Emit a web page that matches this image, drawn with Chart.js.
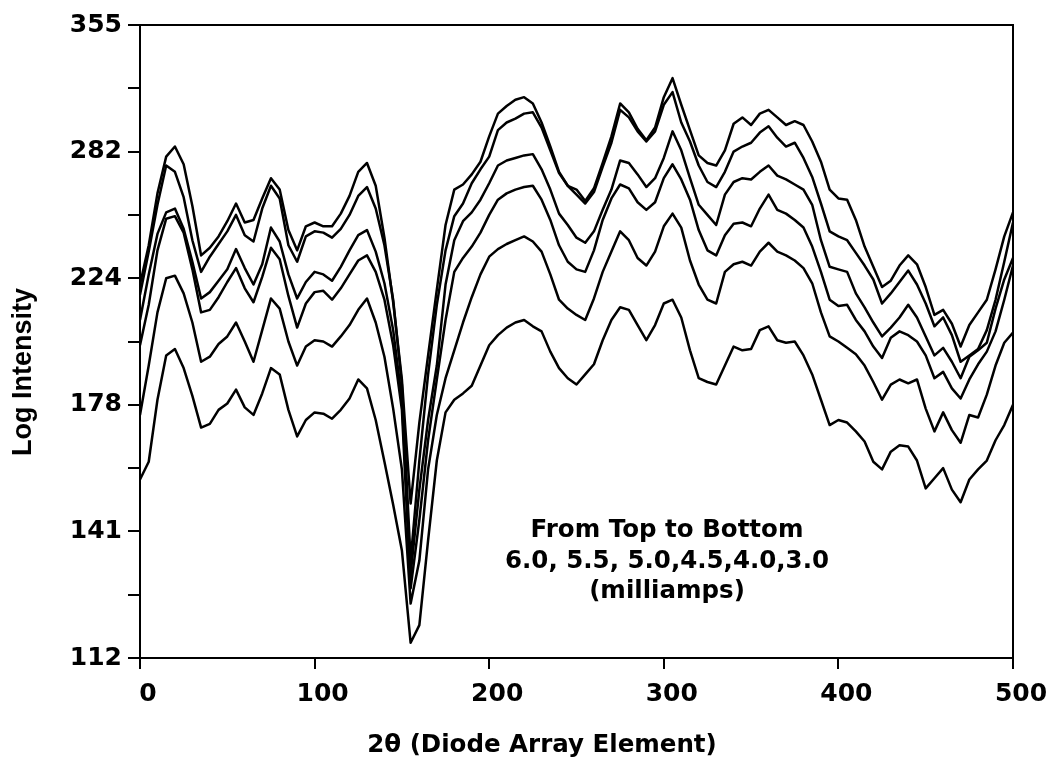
<!DOCTYPE html>
<html><head><meta charset="utf-8">
<script src="https://cdn.jsdelivr.net/npm/chart.js@4.4.1/dist/chart.umd.min.js"></script>
<style>html,body{margin:0;padding:0;background:#fff;}canvas{display:block;}</style>
</head><body>
<canvas id="c" width="1055" height="771"></canvas>
<script>
// Diode array element (x) and log10 intensity for each tube current
const elements = [0,5,10,15,20,25,30,35,40,45,50,55,60,65,70,75,80,85,90,95,100,105,110,115,120,125,130,135,140,145,150,155,160,165,170,175,180,185,190,195,200,205,210,215,220,225,230,235,240,245,250,255,260,265,270,275,280,285,290,295,300,305,310,315,320,325,330,335,340,345,350,355,360,365,370,375,380,385,390,395,400,405,410,415,420,425,430,435,440,445,450,455,460,465,470,475,480,485,490,495,500];

const current6_0 = [2.345,2.376,2.417,2.446,2.454,2.440,2.407,2.368,2.374,2.383,
 2.395,2.409,2.394,2.396,2.413,2.429,2.420,2.388,2.372,2.391,
 2.394,2.391,2.391,2.401,2.415,2.434,2.441,2.423,2.382,2.331,
 2.270,2.172,2.236,2.289,2.341,2.392,2.420,2.424,2.432,2.442,
 2.462,2.480,2.486,2.491,2.493,2.488,2.473,2.454,2.434,2.423,
 2.420,2.411,2.421,2.441,2.462,2.488,2.481,2.468,2.459,2.469,
 2.493,2.508,2.487,2.467,2.447,2.441,2.439,2.451,2.472,2.477,
 2.471,2.480,2.483,2.477,2.471,2.474,2.471,2.458,2.442,2.420,
 2.413,2.412,2.396,2.375,2.359,2.343,2.348,2.360,2.368,2.361,
 2.343,2.321,2.325,2.314,2.296,2.313,2.323,2.333,2.357,2.383,
 2.402];

const current5_5 = [2.337,2.371,2.408,2.439,2.434,2.414,2.380,2.355,2.367,2.377,
 2.387,2.400,2.384,2.379,2.405,2.423,2.413,2.376,2.363,2.383,
 2.387,2.386,2.382,2.389,2.400,2.415,2.422,2.405,2.376,2.333,
 2.266,2.127,2.206,2.274,2.329,2.372,2.399,2.409,2.425,2.436,
 2.446,2.467,2.473,2.476,2.480,2.481,2.469,2.451,2.433,2.423,
 2.416,2.409,2.418,2.438,2.457,2.483,2.477,2.466,2.458,2.466,
 2.487,2.497,2.473,2.458,2.439,2.426,2.422,2.434,2.450,2.454,
 2.457,2.465,2.470,2.461,2.454,2.457,2.445,2.430,2.409,2.387,
 2.383,2.380,2.370,2.360,2.349,2.330,2.338,2.347,2.356,2.345,
 2.330,2.312,2.319,2.305,2.284,2.289,2.294,2.309,2.333,2.363,
 2.394];

const current5_0 = [2.317,2.353,2.385,2.402,2.405,2.389,2.363,2.334,2.339,2.348,
 2.357,2.373,2.358,2.345,2.361,2.390,2.379,2.353,2.334,2.347,
 2.355,2.353,2.348,2.359,2.372,2.384,2.388,2.371,2.346,2.309,
 2.254,2.116,2.183,2.238,2.281,2.345,2.380,2.395,2.402,2.412,
 2.425,2.439,2.443,2.445,2.447,2.448,2.436,2.420,2.401,2.392,
 2.382,2.378,2.387,2.404,2.420,2.443,2.441,2.432,2.422,2.429,
 2.445,2.466,2.451,2.429,2.408,2.400,2.392,2.416,2.426,2.429,
 2.428,2.434,2.439,2.431,2.428,2.424,2.420,2.408,2.380,2.359,
 2.357,2.355,2.338,2.327,2.315,2.304,2.311,2.319,2.329,2.319,
 2.304,2.289,2.295,2.284,2.271,2.288,2.293,2.299,2.326,2.349,
 2.366];

const current4_5 = [2.297,2.329,2.372,2.397,2.399,2.386,2.357,2.323,2.325,2.335,
 2.347,2.358,2.342,2.331,2.351,2.374,2.365,2.336,2.311,2.330,
 2.339,2.340,2.333,2.342,2.353,2.364,2.368,2.355,2.333,2.297,
 2.246,2.105,2.159,2.222,2.270,2.317,2.355,2.366,2.375,2.386,
 2.400,2.412,2.417,2.420,2.422,2.423,2.412,2.396,2.376,2.363,
 2.357,2.355,2.372,2.396,2.413,2.424,2.421,2.410,2.404,2.410,
 2.429,2.440,2.428,2.412,2.388,2.372,2.368,2.384,2.393,2.394,
 2.391,2.405,2.416,2.404,2.401,2.396,2.390,2.375,2.355,2.333,
 2.328,2.329,2.317,2.308,2.296,2.287,2.303,2.308,2.305,2.300,
 2.289,2.271,2.276,2.263,2.255,2.270,2.282,2.292,2.308,2.333,
 2.360];

const current4_0 = [2.242,2.281,2.323,2.350,2.352,2.338,2.315,2.284,2.288,2.298,
 2.304,2.315,2.300,2.284,2.309,2.334,2.326,2.300,2.281,2.296,
 2.301,2.300,2.296,2.304,2.313,2.325,2.334,2.315,2.288,2.247,
 2.199,2.093,2.127,2.199,2.242,2.271,2.293,2.315,2.335,2.353,
 2.367,2.373,2.377,2.380,2.383,2.379,2.371,2.353,2.333,2.326,
 2.321,2.317,2.334,2.355,2.371,2.387,2.380,2.366,2.360,2.371,
 2.391,2.401,2.390,2.364,2.345,2.333,2.330,2.355,2.361,2.363,
 2.360,2.371,2.378,2.371,2.368,2.364,2.358,2.346,2.323,2.304,
 2.300,2.295,2.290,2.281,2.268,2.254,2.266,2.270,2.267,2.270,
 2.247,2.229,2.244,2.230,2.220,2.242,2.240,2.258,2.281,2.299,
 2.307];

const current3_0 = [2.191,2.205,2.254,2.289,2.294,2.279,2.257,2.232,2.235,2.246,
 2.251,2.262,2.248,2.242,2.259,2.279,2.274,2.246,2.225,2.238,
 2.244,2.243,2.239,2.246,2.255,2.270,2.263,2.238,2.205,2.171,
 2.135,2.062,2.076,2.143,2.206,2.244,2.254,2.259,2.265,2.281,
 2.297,2.305,2.311,2.315,2.317,2.312,2.308,2.292,2.279,2.271,
 2.266,2.274,2.282,2.301,2.317,2.327,2.325,2.313,2.301,2.313,
 2.330,2.333,2.319,2.293,2.271,2.268,2.266,2.281,2.296,2.293,
 2.294,2.309,2.312,2.301,2.299,2.300,2.289,2.274,2.254,2.234,
 2.238,2.236,2.229,2.221,2.205,2.199,2.213,2.218,2.217,2.206,
 2.184,2.192,2.200,2.183,2.173,2.191,2.199,2.206,2.222,2.234,
 2.250];

const seriesNames = ['6.0 mA','5.5 mA','5.0 mA','4.5 mA','4.0 mA','3.0 mA'];
const seriesValues = [current6_0, current5_5, current5_0, current4_5, current4_0, current3_0];

const xTickValues = [0,100,200,300,400,500];
const xTickLabels = ['0','100','200','300','400','500'];
const yTickValues = [2.05,2.10,2.15,2.20,2.25,2.30,2.35,2.40,2.45,2.50,2.55];
const yTickLabels = ['112','','141','','178','','224','','282','','355'];

const xTitle = '2\u03b8 (Diode Array Element)';
const yTitle = 'Log Intensity';
const noteLines = ['From Top to Bottom','6.0, 5.5, 5.0,4.5,4.0,3.0','(milliamps)'];

const datasets = seriesValues.map((vals, k) => ({
  label: seriesNames[k],
  data: elements.map((x, i) => ({x: x, y: vals[i]})),
  borderColor: '#000',
  borderWidth: 2.5,
  borderJoinStyle: 'round',
  pointRadius: 0,
  tension: 0,
  fill: false
}));

const tickFont = {family: 'DejaVu Sans', weight: 'bold', size: 25};

const decor = {
  id: 'decor',
  afterDraw(chart) {
    const ctx = chart.ctx, a = chart.chartArea;
    ctx.save();
    ctx.strokeStyle = '#000';
    ctx.lineWidth = 2;
    ctx.strokeRect(a.left, a.top, a.right - a.left, a.bottom - a.top);
    ctx.fillStyle = '#000';
    // x title
    ctx.font = 'bold 24.5px "DejaVu Sans"';
    ctx.textAlign = 'center';
    ctx.textBaseline = 'alphabetic';
    ctx.fillText(xTitle, 542, 752);
    // note
    ctx.font = 'bold 24.5px "DejaVu Sans"';
    const noteY = [537, 568, 598];
    noteLines.forEach((t, i) => ctx.fillText(t, 667, noteY[i]));
    // y title
    ctx.save();
    ctx.translate(31, 372);
    ctx.rotate(-Math.PI / 2);
    ctx.font = 'bold 27px "Liberation Sans"';
    ctx.textAlign = 'center';
    ctx.fillText(yTitle, 0, 0);
    ctx.restore();
    ctx.restore();
  }
};

new Chart(document.getElementById('c'), {
  type: 'line',
  data: {datasets},
  plugins: [decor],
  options: {
    responsive: false,
    animation: false,
    devicePixelRatio: 1,
    layout: {padding: {left: 0, top: 25, right: 42, bottom: 0}},
    plugins: {legend: {display: false}, tooltip: {enabled: false}, title: {display: false}},
    scales: {
      x: {
        type: 'linear', min: 0, max: 500,
        afterBuildTicks: s => { s.ticks = xTickValues.map(v => ({value: v})); },
        afterFit: s => { s.height = 113; },
        ticks: {callback: (v, i) => xTickLabels[i], font: tickFont, color: '#000', padding: 10, labelOffset: 8, maxRotation: 0, autoSkip: false},
        grid: {drawOnChartArea: false, drawTicks: true, tickLength: 11, color: '#000', lineWidth: 2},
        border: {display: true, color: '#000', width: 2}
      },
      y: {
        type: 'linear', min: 2.05, max: 2.55,
        afterBuildTicks: s => { s.ticks = yTickValues.map(v => ({value: v})); },
        afterFit: s => { s.width = 140; },
        ticks: {callback: (v, i) => yTickLabels[i], font: tickFont, color: '#000', padding: 6, autoSkip: false},
        grid: {drawOnChartArea: false, drawTicks: true, tickLength: 12, color: '#000', lineWidth: 2},
        border: {display: true, color: '#000', width: 2}
      }
    }
  }
});
</script>
</body></html>
